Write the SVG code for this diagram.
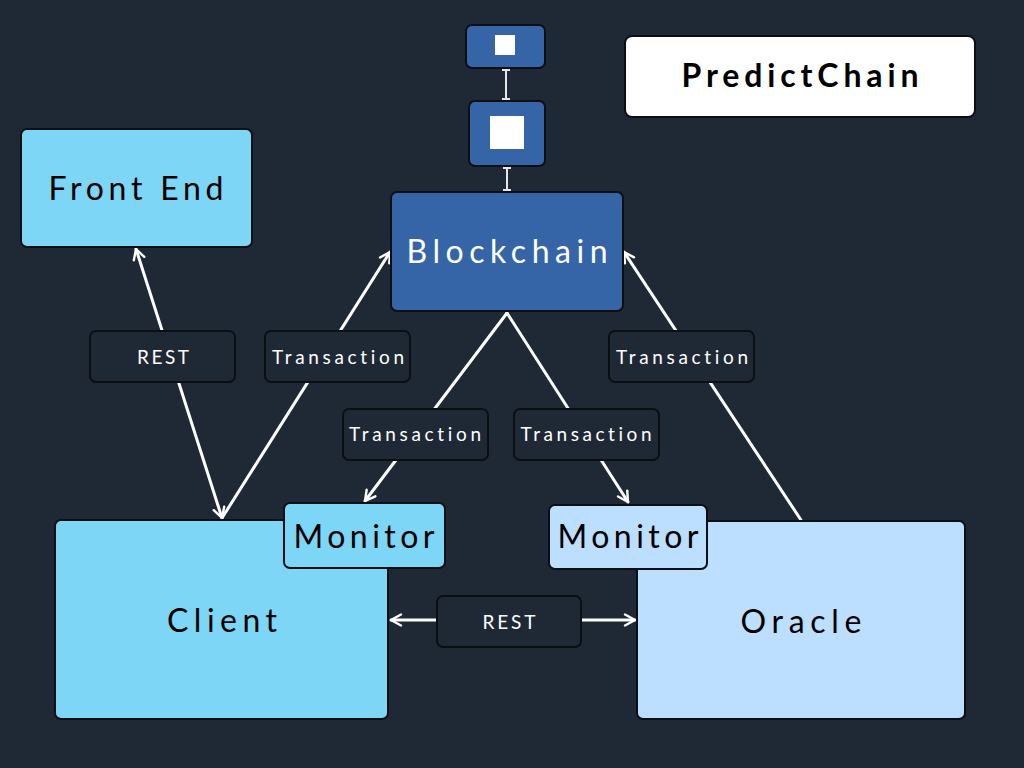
<svg xmlns="http://www.w3.org/2000/svg" width="1024" height="768" viewBox="0 0 1024 768">
<defs>
<marker id="arr" viewBox="0 0 14 14" refX="12" refY="7" markerWidth="14" markerHeight="14" markerUnits="userSpaceOnUse" orient="auto-start-reverse">
<path d="M2,1.5 L12,7 L2,12.5" fill="none" stroke="#ffffff" stroke-width="2.4" stroke-linecap="round" stroke-linejoin="round"/>
</marker>
<style>
.bg{fill:#1f2935}
.box{stroke:#0b0f14;stroke-width:2}
.light{fill:#7dd6f5}
.pale{fill:#bcdeff}
.chain{fill:#3565a6}
.lbl{fill:#1f2935;stroke:#0b0f14;stroke-width:2}
text{font-variant-ligatures:none}
.big{font-family:Lato,"Open Sans",sans-serif;font-size:32px;fill:#000;text-anchor:middle}
.small{font-family:Lato,"Open Sans",sans-serif;font-size:19px;fill:#ffffff;text-anchor:middle}
.edge{stroke:#ffffff;stroke-width:3;fill:none;stroke-linecap:round}
.ibeam{stroke:#e6e6e6;stroke-width:2;fill:none}
</style>
</defs>
<rect class="bg" x="0" y="0" width="1024" height="768"/>

<g id="connectors">
<line class="edge" x1="222" y1="518" x2="136" y2="249" marker-start="url(#arr)" marker-end="url(#arr)"/>
<line class="edge" x1="222" y1="518" x2="390" y2="252" marker-end="url(#arr)"/>
<line class="edge" x1="507" y1="313" x2="365" y2="501" marker-end="url(#arr)"/>
<line class="edge" x1="507" y1="313" x2="628" y2="502" marker-end="url(#arr)"/>
<line class="edge" x1="801" y1="520" x2="624" y2="252" marker-end="url(#arr)"/>
<line class="edge" x1="470" y1="620" x2="391" y2="620" marker-end="url(#arr)"/>
<line class="edge" x1="560" y1="620" x2="635" y2="620" marker-end="url(#arr)"/>
<path class="ibeam" d="M502,70 H510 M506,70 V99 M502,99 H510"/>
<path class="ibeam" d="M503,168 H511 M507,168 V190 M503,190 H511"/>
</g>

<g id="block-small">
<rect class="box chain" x="466" y="25" width="79" height="43" rx="6"/>
<rect x="495" y="35" width="20" height="20" fill="#ffffff"/>
</g>
<g id="block-large">
<rect class="box chain" x="469" y="101" width="76" height="65" rx="6"/>
<rect x="490" y="116" width="34" height="33" fill="#ffffff"/>
</g>

<g id="title">
<rect x="625" y="36" width="350" height="81" rx="7" fill="#ffffff" stroke="#0b0f14" stroke-width="2"/>
<text x="800" y="87" font-family="Lato,'Open Sans',sans-serif" font-size="32" font-weight="bold" fill="#000" text-anchor="middle" textLength="237" lengthAdjust="spacing">PredictChain</text>
</g>

<g id="frontend">
<rect class="box light" x="21" y="129" width="231" height="118" rx="6"/>
<text class="big" x="136" y="200" textLength="175" lengthAdjust="spacing">Front End</text>
</g>

<g id="blockchain">
<rect class="box chain" x="391" y="192" width="232" height="119" rx="6"/>
<text class="big" x="507" y="263" style="fill:#ffffff" textLength="201" lengthAdjust="spacing">Blockchain</text>
</g>

<g id="client">
<rect class="box light" x="55" y="520" width="333" height="199" rx="6"/>
<text class="big" x="222" y="632" textLength="110" lengthAdjust="spacing">Client</text>
</g>

<g id="oracle">
<rect class="box pale" x="637" y="521" width="328" height="198" rx="6"/>
<text class="big" x="801" y="633" textLength="121" lengthAdjust="spacing">Oracle</text>
</g>

<g id="monitor-client">
<rect class="box light" x="284" y="503" width="161" height="65" rx="6"/>
<text class="big" x="364" y="548" textLength="141" lengthAdjust="spacing">Monitor</text>
</g>
<g id="monitor-oracle">
<rect class="box pale" x="549" y="505" width="158" height="64" rx="6"/>
<text class="big" x="628" y="548" textLength="141" lengthAdjust="spacing">Monitor</text>
</g>

<g id="label-rest-top">
<rect class="lbl" x="90" y="331" width="145" height="51" rx="6"/>
<text class="small" x="163" y="364" textLength="52" lengthAdjust="spacing">REST</text>
</g>
<g id="label-tx-client">
<rect class="lbl" x="265" y="331" width="145" height="51" rx="6"/>
<text class="small" x="338" y="364" textLength="132" lengthAdjust="spacing">Transaction</text>
</g>
<g id="label-tx-oracle">
<rect class="lbl" x="609" y="331" width="145" height="51" rx="6"/>
<text class="small" x="682" y="364" textLength="132" lengthAdjust="spacing">Transaction</text>
</g>
<g id="label-tx-mon-left">
<rect class="lbl" x="343" y="409" width="145" height="51" rx="6"/>
<text class="small" x="415" y="441" textLength="132" lengthAdjust="spacing">Transaction</text>
</g>
<g id="label-tx-mon-right">
<rect class="lbl" x="514" y="409" width="145" height="51" rx="6"/>
<text class="small" x="586" y="441" textLength="131" lengthAdjust="spacing">Transaction</text>
</g>
<g id="label-rest-bottom">
<rect class="lbl" x="437" y="596" width="144" height="51" rx="6"/>
<text class="small" x="509" y="629" textLength="53" lengthAdjust="spacing">REST</text>
</g>
</svg>
